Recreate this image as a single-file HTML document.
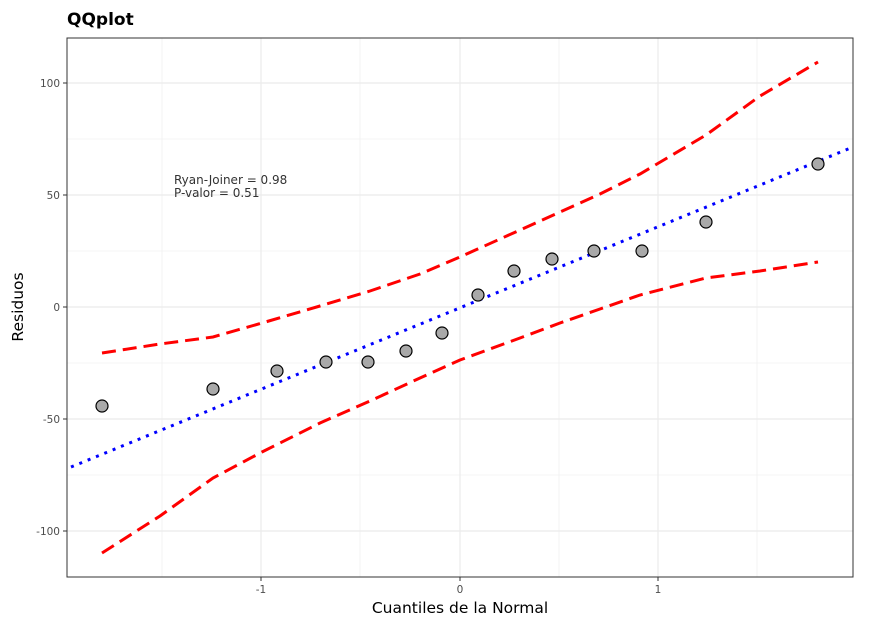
<!DOCTYPE html>
<html><head><style>
body{margin:0;background:#fff;}
svg text{font-family:"DejaVu Sans",sans-serif;}
</style></head><body>
<svg width="871" height="624" xmlns="http://www.w3.org/2000/svg">
<rect width="871" height="624" fill="#fff"/>
<text x="67" y="25" font-size="17" font-weight="bold" fill="#000">QQplot</text>
<g stroke="#ebebeb" stroke-width="0.6">
<line x1="67" x2="853" y1="139" y2="139"/><line x1="67" x2="853" y1="251" y2="251"/>
<line x1="67" x2="853" y1="363" y2="363"/><line x1="67" x2="853" y1="475" y2="475"/>
<line y1="38" y2="577" x1="162" x2="162"/><line y1="38" y2="577" x1="360" x2="360"/>
<line y1="38" y2="577" x1="559" x2="559"/><line y1="38" y2="577" x1="757" x2="757"/>
</g>
<g stroke="#ebebeb" stroke-width="1.2">
<line x1="67" x2="853" y1="83" y2="83"/><line x1="67" x2="853" y1="195" y2="195"/>
<line x1="67" x2="853" y1="307" y2="307"/><line x1="67" x2="853" y1="419" y2="419"/>
<line x1="67" x2="853" y1="531" y2="531"/>
<line y1="38" y2="577" x1="261" x2="261"/><line y1="38" y2="577" x1="460" x2="460"/>
<line y1="38" y2="577" x1="658" x2="658"/>
</g>
<polyline fill="none" stroke="#f00" stroke-width="3" stroke-dasharray="14,7" points="102,353 160,344 213,337 262,323 320,306 370,291 420,274 460,257 520,230 560,212 600,194 640,174 706,135 760,96 818,62"/>
<polyline fill="none" stroke="#f00" stroke-width="3" stroke-dasharray="14,7" points="102,553 160,516 213,478 262,452 320,423 370,401 420,378 460,360 520,338 560,323 600,309 640,295 706,278 760,271 818,262"/>
<line x1="71" y1="467" x2="853" y2="147" stroke="#00f" stroke-width="3" stroke-dasharray="3,6"/>
<g fill="#a9a9a9" stroke="#000" stroke-width="1.2">
<circle cx="102" cy="406" r="6"/><circle cx="213" cy="389" r="6"/><circle cx="277" cy="371" r="6"/>
<circle cx="326" cy="362" r="6"/><circle cx="368" cy="362" r="6"/><circle cx="406" cy="351" r="6"/>
<circle cx="442" cy="333" r="6"/><circle cx="478" cy="295" r="6"/><circle cx="514" cy="271" r="6"/>
<circle cx="552" cy="259" r="6"/><circle cx="594" cy="251" r="6"/><circle cx="642" cy="251" r="6"/>
<circle cx="706" cy="222" r="6"/><circle cx="818" cy="164" r="6"/>
</g>
<text x="174" y="184" font-size="12" fill="#333">Ryan-Joiner = 0.98</text>
<text x="174" y="197" font-size="12" fill="#333">P-valor = 0.51</text>
<rect x="67" y="38" width="786" height="539" fill="none" stroke="#333" stroke-width="1"/>
<g stroke="#333"><line x1="63" x2="67" y1="83" y2="83"/><line x1="63" x2="67" y1="195" y2="195"/><line x1="63" x2="67" y1="307" y2="307"/><line x1="63" x2="67" y1="419" y2="419"/><line x1="63" x2="67" y1="531" y2="531"/>
<line y1="577" y2="581" x1="261" x2="261"/><line y1="577" y2="581" x1="460" x2="460"/><line y1="577" y2="581" x1="658" x2="658"/></g>
<g font-size="10.5" fill="#4d4d4d" text-anchor="end">
<text x="60" y="87">100</text><text x="60" y="199">50</text><text x="60" y="311">0</text><text x="60" y="423">-50</text><text x="60" y="535">-100</text>
</g>
<g font-size="10.5" fill="#4d4d4d" text-anchor="middle">
<text x="261" y="593">-1</text><text x="460" y="593">0</text><text x="658" y="593">1</text>
</g>
<text x="460" y="613" font-size="15.5" text-anchor="middle" fill="#000">Cuantiles de la Normal</text>
<text transform="translate(23,307) rotate(-90)" font-size="15.5" text-anchor="middle" fill="#000">Residuos</text>
</svg>
</body></html>
